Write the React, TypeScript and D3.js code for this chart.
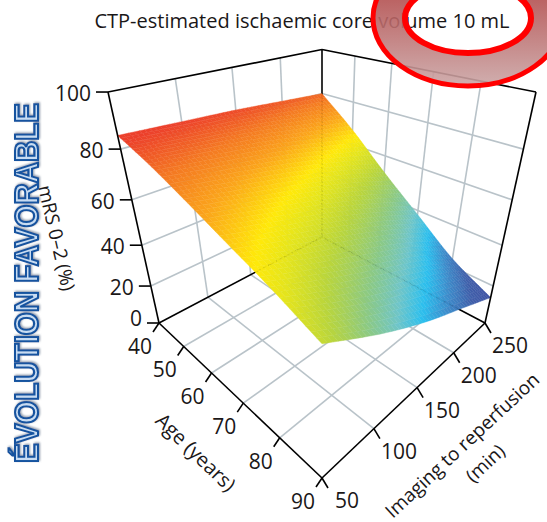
import React from 'react';
import * as d3 from 'd3';

const width = 547;
const height = 522;

const ages = [40, 50, 60, 70, 80, 90];
const times = [50, 100, 150, 200, 250];
const mrsAt50 = [85, 80.5, 75, 69, 63, 56];
const mrsAt100 = [84, 78, 70, 62, 53, 43];
const mrsAt150 = [83, 75, 65, 55, 44, 32];
const mrsAt200 = [81.5, 71, 59, 47, 35, 23];
const mrsAt250 = [80, 67, 52, 38, 24, 14];
const mrsRows = [mrsAt50, mrsAt100, mrsAt150, mrsAt200, mrsAt250];
const mrsTicks = [0, 20, 40, 60, 80, 100];

const colourStops = [14, 20, 27, 33, 39, 46, 54, 61, 65, 72, 78, 84];
const colours = ['#3f52a3', '#3f5ea9', '#3d8ccb', '#2bbfee', '#6fc5c8', '#8cc983', '#b9d53c', '#e6e51c', '#ffe90a', '#fba51b', '#f47a22', '#ec402b'];

const ageScale = d3.scaleLinear().domain([40, 90]).range([0, 1]);
const timeScale = d3.scaleLinear().domain([50, 250]).range([0, 1]);
const mrsScale = d3.scaleLinear().domain([0, 100]).range([0, 1]);
const colour = d3.scaleLinear<string>().domain(colourStops).range(colours).clamp(true);

// perspective box, fitted to the corners of the reference
const project = (age: number, time: number, mrs: number): [number, number] => {
  const u = ageScale(age);
  const v = timeScale(time);
  const w = mrsScale(mrs);
  const lateral = u + v - 1;
  const depth = v - u;
  const q = 1 + 0.2863 * depth - 0.2383 * w;
  return [322 + (163 * lateral) / q, (323 - 18.14 * depth - 252.9 * w) / q];
};

const line = (a: [number, number, number], b: [number, number, number]) =>
  `M${project(...a)}L${project(...b)}`;

// catmull-rom through the read values so the mesh edges do not kink
const smooth = (values: number[], pos: number) => {
  const i = Math.min(Math.floor(pos), values.length - 2);
  const t = pos - i;
  const p1 = values[i];
  const p2 = values[i + 1];
  const p0 = i > 0 ? values[i - 1] : 2 * p1 - p2;
  const p3 = i < values.length - 2 ? values[i + 2] : 2 * p2 - p1;
  return 0.5 * (2 * p1 + (p2 - p0) * t + (2 * p0 - 5 * p1 + 4 * p2 - p3) * t * t + (3 * p1 - p0 - 3 * p2 + p3) * t * t * t);
};

const mrsAt = (age: number, time: number) => {
  const across = mrsRows.map(row => smooth(row, (age - ages[0]) / 10));
  return smooth(across, (time - times[0]) / 50);
};

// fine mesh for the painted surface
const meshAges = d3.range(40, 90.01, 1);
const meshTimes = d3.range(50, 250.01, 4);
const cells: { d: string; fill: string }[] = [];
meshTimes.slice(0, -1).forEach((t, j) => {
  meshAges.slice(0, -1).forEach((a, i) => {
    const a2 = meshAges[i + 1];
    const t2 = meshTimes[j + 1];
    const corners = [[a, t], [a2, t], [a2, t2], [a, t2]].map(([x, y]) => project(x, y, mrsAt(x, y)));
    const mean = (mrsAt(a, t) + mrsAt(a2, t) + mrsAt(a2, t2) + mrsAt(a, t2)) / 4;
    cells.push({ d: `M${corners.join('L')}Z`, fill: colour(mean) });
  });
});

const grey = '#b9c3c9';
const mainFont = '"Open Sans", sans-serif';

export default function App() {
  const innerTimes = times.slice(1, -1);
  const innerAges = ages.slice(1, -1);
  const innerMrs = mrsTicks.slice(1, -1);
  const topMrs = 100;

  return (
    <svg width={width} height={height} style={{ position: 'absolute', left: 0, top: 0 }} fontFamily={mainFont} fill="#1a1718">
      <defs>
        <linearGradient id="ring" x1="0" y1="0" x2="0" y2="1">
          <stop offset="0.35" stopColor="#b35050" stopOpacity={0.9} />
          <stop offset="1" stopColor="#cba6a6" stopOpacity={0.9} />
        </linearGradient>
        <filter id="soft" x="-20%" y="-5%" width="140%" height="110%">
          <feDropShadow dx={1} dy={1} stdDeviation={1} floodColor="#6f7f93" floodOpacity={0.8} />
        </filter>
      </defs>

      {/* grid on the floor and both walls */}
      <g stroke={grey} strokeWidth={1.6} fill="none">
        {innerAges.map(a => <path key={`fa${a}`} d={line([a, 50, 0], [a, 250, 0])} />)}
        {innerTimes.map(t => <path key={`ft${t}`} d={line([40, t, 0], [90, t, 0])} />)}
        {innerMrs.map(m => <path key={`wl${m}`} d={line([40, 50, m], [40, 250, m])} />)}
        {innerMrs.map(m => <path key={`wr${m}`} d={line([40, 250, m], [90, 250, m])} />)}
        {innerTimes.map(t => <path key={`vl${t}`} d={line([40, t, 0], [40, t, topMrs])} />)}
        {innerAges.map(a => <path key={`vr${a}`} d={line([a, 250, 0], [a, 250, topMrs])} />)}
      </g>

      {/* box */}
      <g stroke="#000" strokeWidth={1.6} fill="none">
        <path d={line([40, 250, 0], [40, 250, topMrs])} />
        <path d={line([40, 50, 0], [40, 250, 0])} />
        <path d={line([40, 250, 0], [90, 250, 0])} />
      </g>

      {cells.map((c, i) => <path key={i} d={c.d} fill={c.fill} stroke={c.fill} strokeWidth={0.4} />)}

      {/* hidden edges show faintly through the surface */}
      <g stroke="#000" strokeOpacity={0.09} strokeWidth={1} strokeDasharray="1 2" fill="none">
        <path d={line([40, 250, 0], [40, 250, 80])} />
        <path d={line([40, 250, 0], [40, 155, 0])} />
        <path d={line([40, 250, 0], [84, 250, 0])} />
      </g>

      <g stroke="#000" strokeWidth={1.6} fill="none">
        <path d={line([40, 50, 0], [40, 50, topMrs])} />
        <path d={line([90, 250, 0], [90, 250, topMrs])} />
        <path d={line([40, 50, topMrs], [40, 250, topMrs])} />
        <path d={line([40, 250, topMrs], [90, 250, topMrs])} />
        <path d={line([40, 50, 0], [90, 50, 0])} />
        <path d={line([90, 50, 0], [90, 250, 0])} />
      </g>

      {/* mRS axis */}
      {mrsTicks.map(m => {
        const [x, y] = project(40, 50, m);
        return (
          <g key={m}>
            <line x1={x - 12} x2={x} y1={y} y2={y} stroke="#000" strokeWidth={1.6} />
            <text x={x - 17} y={y + (m === 0 ? -5 : 1)} fontSize={21} textAnchor="end" dominantBaseline="central">{m}</text>
          </g>
        );
      })}

      {/* age axis */}
      {ages.map(a => {
        const [x, y] = project(a, 50, 0);
        return (
          <g key={a}>
            <line x1={x} x2={x - 6} y1={y} y2={y + 9} stroke="#000" strokeWidth={1.6} />
            <text x={x - 19} y={y + 23} fontSize={21} textAnchor="middle" dominantBaseline="central">{a}</text>
          </g>
        );
      })}

      {/* time axis */}
      {times.map(t => {
        const [x, y] = project(90, t, 0);
        return (
          <g key={t}>
            <line x1={x} x2={x + 6} y1={y} y2={y + 10} stroke="#000" strokeWidth={1.6} />
            <text x={x + 25} y={y + 22} fontSize={21} textAnchor="middle" dominantBaseline="central">{t}</text>
          </g>
        );
      })}

      <text transform="translate(57,238) rotate(77)" fontSize={19} textAnchor="middle" dominantBaseline="central">mRS 0–2 (%)</text>
      <text transform="translate(196,452) rotate(44)" fontSize={20} textAnchor="middle" dominantBaseline="central">Age (years)</text>
      <text transform="translate(462,445) rotate(-43)" fontSize={19} textAnchor="middle" dominantBaseline="central">Imaging to reperfusion</text>
      <text transform="translate(485,463) rotate(-43)" fontSize={19} textAnchor="middle" dominantBaseline="central">(min)</text>

      <text x={302} y={20} fontSize={20} textAnchor="middle" dominantBaseline="central">CTP-estimated ischaemic core volume 10 mL</text>

      {/* hand-drawn highlight over the title */}
      <path
        d="M373,18A95,68 0 1 0 563,18A95,68 0 1 0 373,18ZM405,18A63,35 0 1 0 531,18A63,35 0 1 0 405,18Z"
        fill="url(#ring)"
        fillRule="evenodd"
      />
      <ellipse cx={468} cy={18} rx={95} ry={68} fill="none" stroke="#ff0000" strokeWidth={5} />
      <ellipse cx={468} cy={18} rx={63} ry={35} fill="none" stroke="#ff0000" strokeWidth={6} />

      <text
        transform="translate(38,283) rotate(-90)"
        fontFamily='"Liberation Sans", Arial, sans-serif'
        fontWeight="bold"
        fontSize={33}
        textAnchor="middle"
        textLength={360}
        lengthAdjust="spacingAndGlyphs"
        fill="#c9dcf2"
        stroke="#14539f"
        strokeWidth={2.2}
        filter="url(#soft)"
      >
        ÉVOLUTION FAVORABLE
      </text>
    </svg>
  );
}
